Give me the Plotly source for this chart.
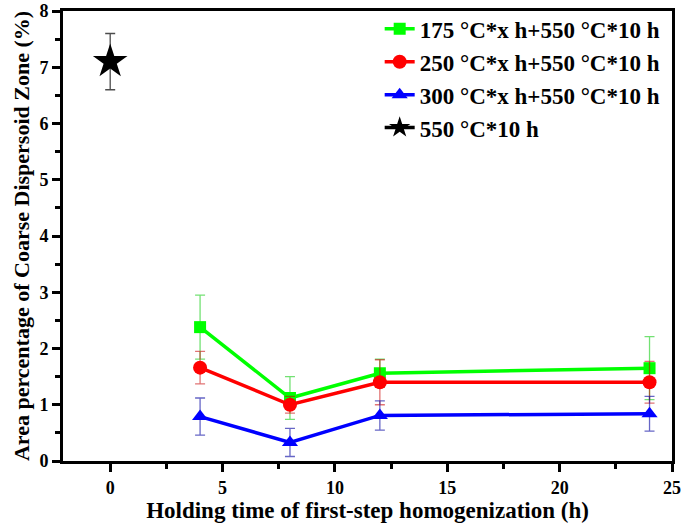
import plotly.graph_objects as go

x_hold = [4, 8, 12, 24]
g175 = [2.38, 1.12, 1.56, 1.65]
g175_err = [0.57, 0.38, 0.25, 0.56]
r250 = [1.66, 1.00, 1.40, 1.40]
r250_err = [0.29, 0.15, 0.40, 0.37]
b300 = [0.79, 0.33, 0.81, 0.84]
b300_err = [0.33, 0.25, 0.26, 0.31]
x_single = [0]
s550 = [7.1]
s550_err = [0.5]

x_ticks = [0, 5, 10, 15, 20, 25]
y_ticks = [0, 1, 2, 3, 4, 5, 6, 7, 8]

names = ["175 °C*x h+550 °C*10 h", "250 °C*x h+550 °C*10 h",
         "300 °C*x h+550 °C*10 h", "550 °C*10 h"]

FONT = "Liberation Serif"

fig = go.Figure()

def add(x, y, e, name, color, ecolor, symbol, size, group):
    fig.add_trace(go.Scatter(
        x=x, y=y, name=name, mode="lines+markers", legendgroup=group,
        line=dict(color=color, width=3.5),
        marker=dict(symbol=symbol, size=size, color=color),
        error_y=dict(type="data", array=e, visible=True, color=ecolor,
                     thickness=1.3, width=5),
    ))

add(x_hold, g175, g175_err, names[0], "#00ff00", "rgba(0,200,0,0.55)", "square", 12, "a")
add(x_hold, r250, r250_err, names[1], "#ff0000", "rgba(200,0,0,0.55)", "circle", 14, "b")
add(x_hold, b300, b300_err, names[2], "#0000ff", "rgba(0,0,160,0.6)", "triangle-up", 14, "c")
add(x_single, s550, s550_err, names[3], "#000000", "rgba(0,0,0,0.7)", "star", 26, "d")

axis_common = dict(
    showline=True, linecolor="black", linewidth=3, mirror=True,
    ticks="outside", ticklen=8, tickwidth=2.5, tickcolor="black",
    showgrid=False, zeroline=False,
    tickfont=dict(family=FONT, size=18, color="black"),
)

fig.update_xaxes(range=[-2.1, 25], tickvals=x_ticks,
                 ticktext=[f"<b>{v}</b>" for v in x_ticks],
                 minor=dict(tickvals=[-2.5, 2.5, 7.5, 12.5, 17.5, 22.5], ticks="outside",
                            ticklen=5, tickwidth=2.5, tickcolor="black"),
                 title=dict(text="<b>Holding time of first-step homogenization (h)</b>",
                            font=dict(family=FONT, size=23, color="black"), standoff=6),
                 **axis_common)
fig.update_yaxes(range=[0, 8], tickvals=y_ticks,
                 ticktext=[f"<b>{v}</b>" for v in y_ticks],
                 minor=dict(tickvals=[0.5, 1.5, 2.5, 3.5, 4.5, 5.5, 6.5, 7.5], ticks="outside",
                            ticklen=5, tickwidth=2.5, tickcolor="black"),
                 title=dict(text="<b>Area percentage of Coarse Dispersoid Zone (%)</b>",
                            font=dict(family=FONT, size=22, color="black"), standoff=4),
                 **axis_common)

fig.update_layout(
    width=685, height=527,
    margin=dict(l=63, r=13, t=11, b=66, autoexpand=False),
    plot_bgcolor="white", paper_bgcolor="white",
    legend=dict(x=0.52, y=1.008, xanchor="left", yanchor="top",
                bgcolor="rgba(0,0,0,0)", borderwidth=0, tracegroupgap=0,
                font=dict(family=FONT, size=23, color="black", weight="bold")),
    showlegend=True,
)

fig.write_html("out.html", config={"displayModeBar": False},
               post_script="document.body.style.margin='0';")
